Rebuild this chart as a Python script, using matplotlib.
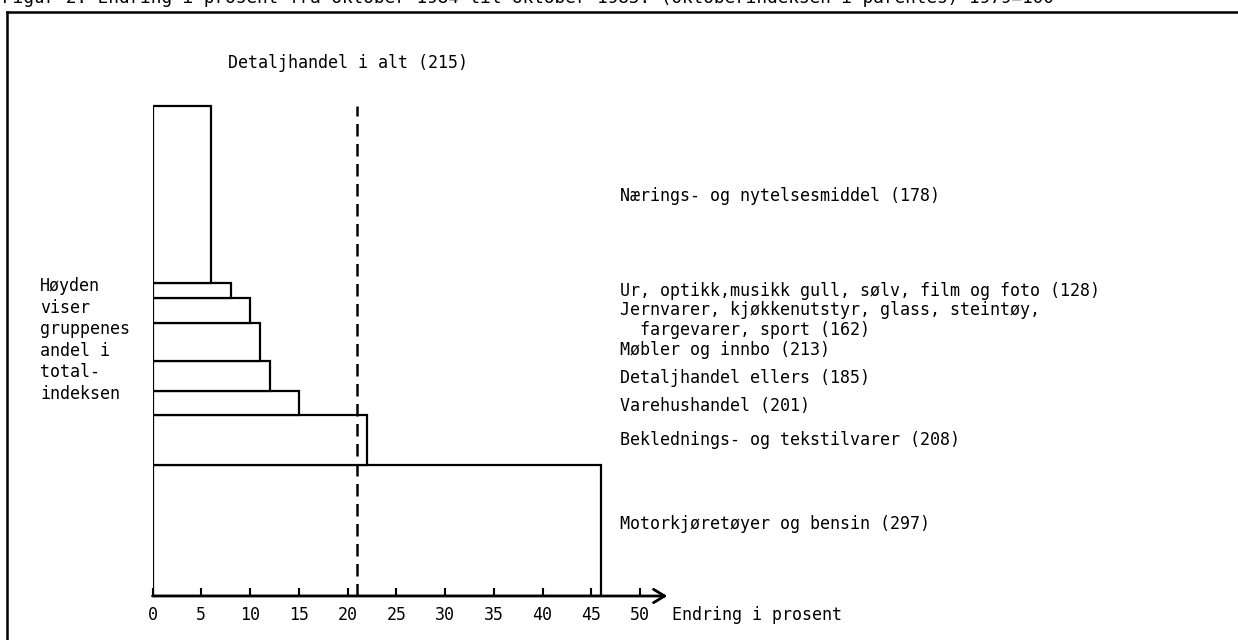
import matplotlib.pyplot as plt
from matplotlib.lines import Line2D

### DATA ###
# groups from bottom to top of the stack
groups = ["Motorkjøretøyer og bensin (297)",
          "Beklednings- og tekstilvarer (208)",
          "Varehushandel (201)",
          "Detaljhandel ellers (185)",
          "Møbler og innbo (213)",
          "Jernvarer, kjøkkenutstyr, glass, steintøy,\n  fargevarer, sport (162)",
          "Ur, optikk,musikk gull, sølv, film og foto (128)",
          "Nærings- og nytelsesmiddel (178)"]
# change in percent (bar length)
change = [46, 22, 15, 12, 11, 10, 8, 6]
# share of total index (bar height)
share = [26.7, 10.2, 5.0, 6.1, 7.8, 5.0, 3.1, 36.1]
total_change = 21
total_label = "Detaljhandel i alt (215)"
xticks = [0, 5, 10, 15, 20, 25, 30, 35, 40, 45, 50]

title = "Figur 2. Endring i prosent fra oktober 1984 til oktober 1985. (Oktoberindeksen i parentes) 1979=100"
side_note = "Høyden\nviser\ngruppenes\nandel i\ntotal-\nindeksen"
xlabel = "Endring i prosent"

# label vertical centres in pixels (layout)
label_py = [524, 440, 406, 378, 350, 320, 291, 196]

W, H = 1238, 640
plt.rcParams['font.family'] = ['DejaVu Sans Mono']
FS = 12

def fx(px):
    return px / W

def fy(py):
    return 1 - py / H

fig = plt.figure(figsize=(W / 100, H / 100), dpi=100)
x0, y0 = 152.5, 596
pxu, pyu = 9.75, 4.9
ax = fig.add_axes([fx(x0), fy(y0), 60 * pxu / W, 110 * pyu / H])
ax.set_xlim(0, 60)
ax.set_ylim(0, 110)

bottom = 0
for c, s in zip(change, share):
    ax.bar(0, s, width=c, bottom=bottom, align='edge', facecolor='white',
           edgecolor='black', linewidth=1.6)
    bottom += s

# dashed line for the total
ax.plot([total_change, total_change], [0, bottom], color='black', lw=1.8,
        dashes=(5, 3))

for s in ax.spines.values():
    s.set_visible(False)
ax.annotate("", xy=(52.8, 0), xytext=(0, 0),
            arrowprops=dict(arrowstyle='->,head_length=0.5,head_width=0.3',
                            lw=2.0, color='black', mutation_scale=16,
                            shrinkA=0, shrinkB=0))
ax.set_yticks([])
ax.set_xticks(xticks)
ax.tick_params(axis='x', direction='in', length=6, width=1.5, pad=7,
               labelsize=FS)

# texts
fig.text(fx(672), fy(615), xlabel, fontsize=FS, va='center', ha='left')
fig.text(fx(228), fy(63), total_label, fontsize=FS, va='center', ha='left')
fig.text(fx(40), fy(340), side_note, fontsize=FS, va='center', ha='left',
         linespacing=1.25)
for lab, py in zip(groups, label_py):
    fig.text(fx(620), fy(py), lab, fontsize=FS, va='center', ha='left',
             linespacing=1.2)

# frame and cut title
fig.text(fx(2), fy(3), title, fontsize=12.8, va='baseline', ha='left')
fig.add_artist(Line2D([fx(7), fx(7)], [fy(12), fy(700)], color='black', lw=1.8))
fig.add_artist(Line2D([fx(7), fx(1300)], [fy(12), fy(12)], color='black', lw=1.8))

plt.savefig("out.png", dpi=100)
